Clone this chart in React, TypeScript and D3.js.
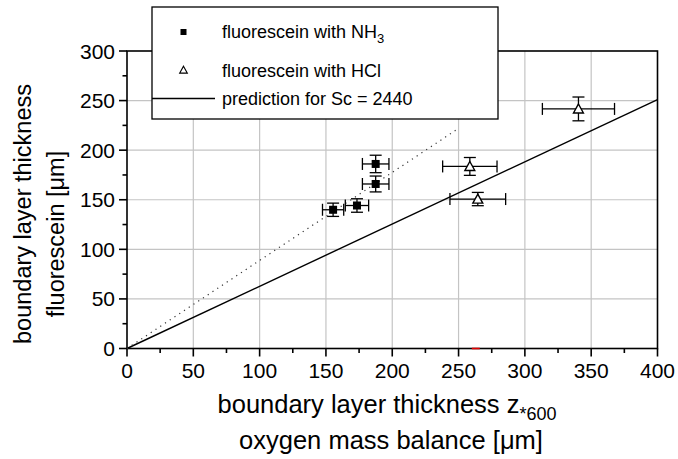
import React from "react";
import * as d3 from "d3";

const xTicks = [0, 50, 100, 150, 200, 250, 300, 350, 400];
const yTicks = [0, 50, 100, 150, 200, 250, 300];

const nh3X = [155.4, 173.4, 187.5, 187.5];
const nh3Y = [139.9, 144.2, 165.9, 186.1];
const nh3Xerr = [8, 8.8, 10, 10];
const nh3Yerr = [6.7, 6.8, 8, 8.8];

const hclX = [258.5, 264.5, 340.4];
const hclY = [183.6, 150.7, 241.6];
const hclXerr = [20.5, 21, 27.2];
const hclYerr = [9, 6.7, 12];

const predX = [0, 400];
const predY = [0, 251];
const dotX = [0, 250];
const dotY = [0, 222];

const W = 678;
const H = 459;
const FONT = "Liberation Sans, Arial, sans-serif";

export default function App() {
  const x = d3.scaleLinear().domain([0, 400]).range([127, 657.5]);
  const y = d3.scaleLinear().domain([0, 300]).range([348.5, 51]);
  const line = d3
    .line<[number, number]>()
    .x((d) => x(d[0]))
    .y((d) => y(d[1]));
  const minorX = d3.range(25, 400, 50);
  const minorY = d3.range(25, 300, 50);
  const cap = 6;

  const errBars = (xs: number[], ys: number[], xe: number[], ye: number[], key: string) =>
    xs.map((xv, i) => {
      const cx = x(xv);
      const cy = y(ys[i]);
      const x1 = x(xv - xe[i]);
      const x2 = x(xv + xe[i]);
      const y1 = y(ys[i] - ye[i]);
      const y2 = y(ys[i] + ye[i]);
      return (
        <g key={key + i} stroke="#000" strokeWidth={1.3}>
          <line x1={x1} x2={x2} y1={cy} y2={cy} />
          <line x1={x1} x2={x1} y1={cy - cap} y2={cy + cap} />
          <line x1={x2} x2={x2} y1={cy - cap} y2={cy + cap} />
          <line x1={cx} x2={cx} y1={y1} y2={y2} />
          <line x1={cx - cap} x2={cx + cap} y1={y1} y2={y1} />
          <line x1={cx - cap} x2={cx + cap} y1={y2} y2={y2} />
        </g>
      );
    });

  const tri = (cx: number, cy: number, s: number) =>
    `M${cx},${cy - s * 0.55} L${cx + s * 0.55},${cy + s * 0.45} L${cx - s * 0.55},${cy + s * 0.45} Z`;

  return (
    <svg
      width={W}
      height={H}
      style={{ position: "absolute", left: 0, top: 0, background: "#fff" }}
      fontFamily={FONT}
    >
      <rect x={0} y={0} width={W} height={H} fill="#fff" />
      {/* grid */}
      <g stroke="#c4c4c4" strokeWidth={1.2}>
        {xTicks.slice(1, -1).map((t) => (
          <line key={"gx" + t} x1={x(t)} x2={x(t)} y1={y(0)} y2={y(300)} />
        ))}
        {yTicks.slice(1, -1).map((t) => (
          <line key={"gy" + t} x1={x(0)} x2={x(400)} y1={y(t)} y2={y(t)} />
        ))}
      </g>
      {/* frame */}
      <rect
        x={x(0)}
        y={y(300)}
        width={x(400) - x(0)}
        height={y(0) - y(300)}
        fill="none"
        stroke="#000"
        strokeWidth={1.6}
      />
      {/* red mark */}
      <line x1={x(260)} x2={x(266)} y1={y(0)} y2={y(0)} stroke="#e00000" strokeWidth={1.6} />
      {/* ticks */}
      <g stroke="#000" strokeWidth={1.6}>
        {xTicks.map((t) => (
          <line key={"tx" + t} x1={x(t)} x2={x(t)} y1={y(0)} y2={y(0) + 8} />
        ))}
        {minorX.map((t) => (
          <line key={"mx" + t} x1={x(t)} x2={x(t)} y1={y(0)} y2={y(0) + 4.5} />
        ))}
        {yTicks.map((t) => (
          <line key={"ty" + t} x1={x(0) - 8} x2={x(0)} y1={y(t)} y2={y(t)} />
        ))}
        {minorY.map((t) => (
          <line key={"my" + t} x1={x(0) - 4.5} x2={x(0)} y1={y(t)} y2={y(t)} />
        ))}
      </g>
      {/* tick labels */}
      <g fontSize={21} fill="#000">
        {xTicks.map((t) => (
          <text key={"lx" + t} x={x(t)} y={y(0) + 29.5} textAnchor="middle">
            {t}
          </text>
        ))}
        {yTicks.map((t) => (
          <text key={"ly" + t} x={x(0) - 12} y={y(t) + 7.5} textAnchor="end">
            {t}
          </text>
        ))}
      </g>
      {/* lines */}
      <path
        d={line(predX.map((v, i) => [v, predY[i]]) as [number, number][]) || ""}
        stroke="#000"
        strokeWidth={1.4}
        fill="none"
      />
      <path
        d={line(dotX.map((v, i) => [v, dotY[i]]) as [number, number][]) || ""}
        stroke="#333"
        strokeWidth={1.2}
        strokeDasharray="1.2,4.5"
        fill="none"
      />
      {/* error bars */}
      {errBars(nh3X, nh3Y, nh3Xerr, nh3Yerr, "n")}
      {errBars(hclX, hclY, hclXerr, hclYerr, "h")}
      {/* markers */}
      {nh3X.map((xv, i) => (
        <rect key={"sq" + i} x={x(xv) - 4} y={y(nh3Y[i]) - 4} width={8} height={8} fill="#000" />
      ))}
      {hclX.map((xv, i) => (
        <path key={"tr" + i} d={tri(x(xv), y(hclY[i]), 9)} fill="#fff" stroke="#000" strokeWidth={1.4} />
      ))}
      {/* legend */}
      <rect x={152} y={7} width={346} height={112} fill="#fff" stroke="#000" strokeWidth={1.3} />
      <rect x={180.5} y={29} width={6} height={6} fill="#000" />
      <path d={tri(183.5, 70, 7)} fill="#fff" stroke="#000" strokeWidth={1.1} />
      <line x1={152} x2={215} y1={98.5} y2={98.5} stroke="#000" strokeWidth={1.3} />
      <g fontSize={18} fill="#000">
        <text x={222} y={38}>
          fluorescein with NH<tspan dy={5} fontSize={13}>3</tspan>
        </text>
        <text x={222} y={76.5}>fluorescein with HCl</text>
        <text x={222} y={105}>prediction for Sc = 2440</text>
      </g>
      {/* axis titles */}
      <g fill="#000">
        <text x={387} y={413} textAnchor="middle" fontSize={25.5}>
          boundary layer thickness z<tspan dy={7} fontSize={18}>*600</tspan>
        </text>
        <text x={391} y={449} textAnchor="middle" fontSize={25.5}>
          oxygen mass balance [μm]
        </text>
        <text transform="translate(31,214) rotate(-90)" textAnchor="middle" fontSize={23.5}>
          boundary layer thickness
        </text>
        <text transform="translate(64,234) rotate(-90)" textAnchor="middle" fontSize={23.5}>
          fluorescein [μm]
        </text>
      </g>
    </svg>
  );
}
